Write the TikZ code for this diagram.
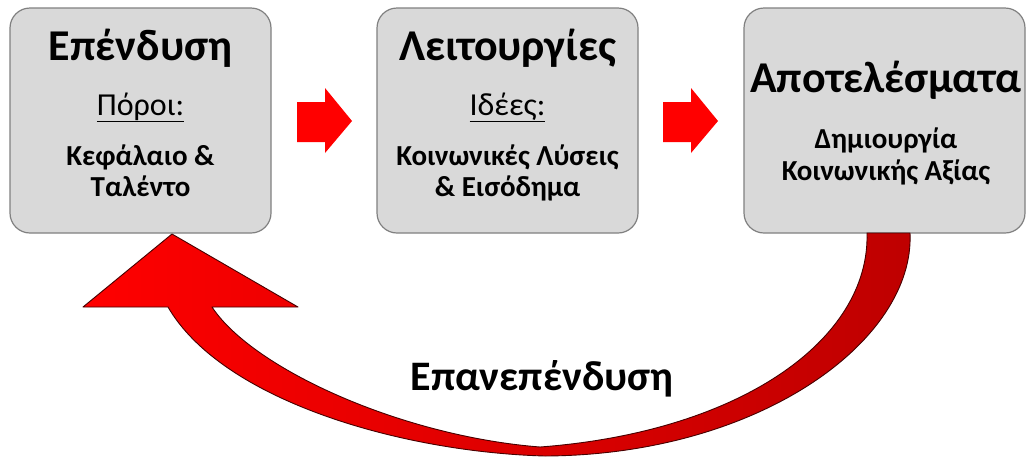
\documentclass[tikz,border=0pt]{standalone}
\usepackage{fontspec}
\setmainfont{Carlito}
\definecolor{boxfill}{RGB}{217,217,217}
\definecolor{boxborder}{RGB}{128,128,128}
\definecolor{arrowred}{RGB}{255,0,0}
\definecolor{darkred}{RGB}{190,0,0}
\definecolor{outlinered}{RGB}{70,0,0}
\begin{document}
\begin{tikzpicture}[x=1pt,y=-1pt,
  box/.style={draw=boxborder, fill=boxfill, line width=1.2pt, rounded corners=20pt, minimum width=261pt, minimum height=225pt, inner sep=0pt},
  ttl/.style={font=\fontsize{44}{48}\selectfont\bfseries, anchor=base, inner sep=0pt},
  sub/.style={font=\fontsize{32}{36}\selectfont, anchor=base, inner sep=0pt},
  body/.style={font=\fontsize{29}{32}\selectfont\bfseries, anchor=base, inner sep=0pt},
  blockarrow/.style={fill=arrowred, draw=none},
  loopstyle/.style={left color=arrowred, right color=darkred, draw=outlinered, line width=0.9pt, line join=round},
]
\useasboundingbox (0,0) rectangle (1032,456);

% boxes
\node[box] (b1) at (140.5,120.5) {};
\node[box] (b2) at (507.5,120.5) {};
\node[box, minimum width=281pt] (b3) at (884.5,120.5) {};

% box 1 text
\node[ttl]  (t1) at (140.5,60) {Επένδυση};
\node[sub]  (s1) at (140.5,115) {\underline{Πόροι:}};
\node[body] (c1a) at (140.5,165) {Κεφάλαιο \&};
\node[body] (c1b) at (140.5,196) {Ταλέντο};

% box 2 text
\node[ttl]  (t2) at (507.5,60) {Λειτουργίες};
\node[sub]  (s2) at (507.5,115) {\underline{Ιδέες:}};
\node[body] (c2a) at (507.5,165) {Κοινωνικές Λύσεις};
\node[body] (c2b) at (507.5,196) {\& Εισόδημα};

% box 3 text
\node[ttl]  (t3) at (886,92) {Αποτελέσματα};
\node[body] (c3a) at (886,148) {Δημιουργία};
\node[body] (c3b) at (886,180) {Κοινωνικής Αξίας};

% block arrows between boxes
\path[blockarrow] (297,102) -- (325,102) -- (325,88) -- (352,121) -- (325,153) -- (325,142) -- (297,142) -- cycle;
\path[blockarrow] (663,102) -- (691,102) -- (691,88) -- (718,121) -- (691,153) -- (691,142) -- (663,142) -- cycle;

% curved return arrow
\path[loopstyle]
  (910,233) .. controls (915,340) and (760,455) .. (545,456)
  .. controls (400,452) and (222,400) .. (168,307)
  -- (83,307) -- (172,234) -- (298,307) -- (212,307)
  .. controls (252,368) and (400,436) .. (540,447)
  .. controls (740,432) and (870,340) .. (867,233)
  -- cycle;

\node[font=\fontsize{42}{46}\selectfont\bfseries, anchor=base, inner sep=0pt] (re) at (542,390) {Επανεπένδυση};
\end{tikzpicture}
\end{document}
